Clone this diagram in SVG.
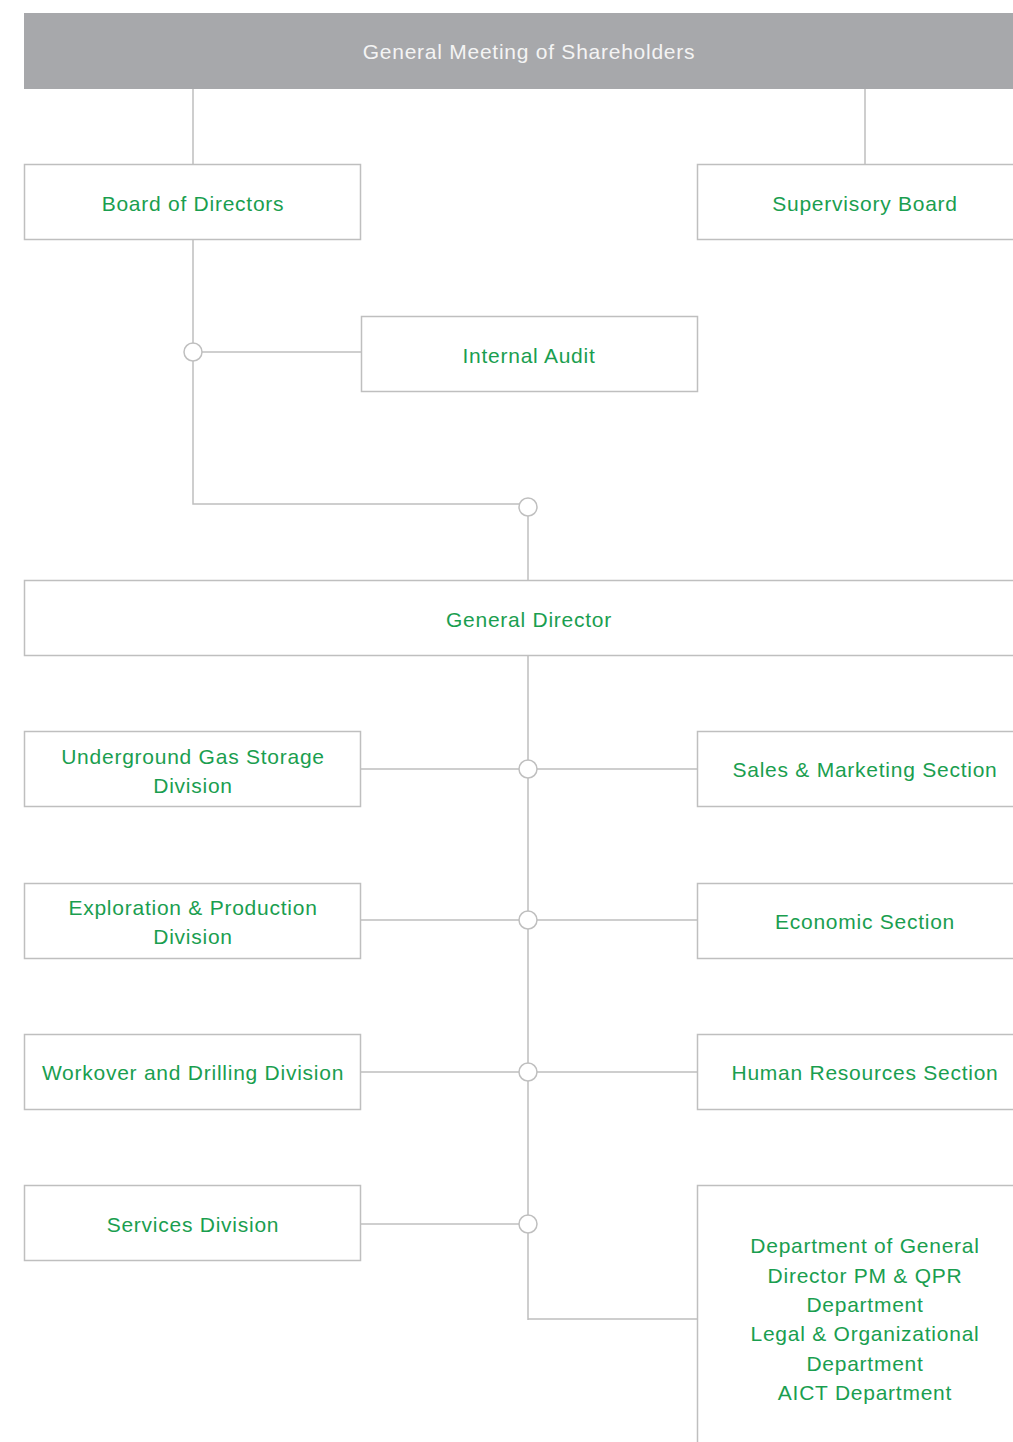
<svg xmlns="http://www.w3.org/2000/svg" width="1013" height="1442" viewBox="0 0 1013 1442">
<style>
.box{fill:#fff;stroke:#bfbfbf;stroke-width:1.5}
.t{font-family:"Liberation Sans",Arial,sans-serif;font-size:21px;letter-spacing:0.75px;fill:#1a9e4f;text-anchor:middle}
.w{font-family:"Liberation Sans",Arial,sans-serif;font-size:21px;letter-spacing:0.75px;fill:#f4f4f4;text-anchor:middle}
.c{fill:none;stroke:#bfbfbf;stroke-width:1.5}
.j{fill:#fff;stroke:#bfbfbf;stroke-width:1.5}
</style>
<rect width="1013" height="1442" fill="#fff"/>
<g id="connectors">
<path class="c" d="M193 89V164M865 89V164"/>
<path class="c" d="M193 240V504H519"/>
<path class="c" d="M202 352H361"/>
<path class="c" d="M528 516V580"/>
<path class="c" d="M528 656V1320M528 1319H697"/>
<path class="c" d="M361 769H519M537 769H697"/>
<path class="c" d="M361 920H519M537 920H697"/>
<path class="c" d="M361 1072H519M537 1072H697"/>
<path class="c" d="M361 1224H519"/>
<circle class="j" cx="193" cy="352" r="9"/>
<circle class="j" cx="528" cy="507" r="9"/>
<circle class="j" cx="528" cy="769" r="9"/>
<circle class="j" cx="528" cy="920" r="9"/>
<circle class="j" cx="528" cy="1072" r="9"/>
<circle class="j" cx="528" cy="1224" r="9"/>
</g>
<g id="gms">
<rect x="24" y="13" width="989" height="76" fill="#a7a8ab"/>
<text class="w" x="529" y="59">General Meeting of Shareholders</text>
</g>
<g id="board">
<rect class="box" x="24.5" y="164.5" width="336" height="75"/>
<text class="t" x="193" y="211">Board of Directors</text>
</g>
<g id="supervisory">
<rect class="box" x="697.5" y="164.5" width="320" height="75"/>
<text class="t" x="865" y="211">Supervisory Board</text>
</g>
<g id="audit">
<rect class="box" x="361.5" y="316.5" width="336" height="75"/>
<text class="t" x="529" y="363">Internal Audit</text>
</g>
<g id="gd">
<rect class="box" x="24.5" y="580.5" width="993" height="75"/>
<text class="t" x="529" y="627">General Director</text>
</g>
<g id="ugs">
<rect class="box" x="24.5" y="731.5" width="336" height="75"/>
<text class="t" x="193" y="764">Underground Gas Storage</text>
<text class="t" x="193" y="793">Division</text>
</g>
<g id="sales">
<rect class="box" x="697.5" y="731.5" width="320" height="75"/>
<text class="t" x="865" y="777">Sales &amp; Marketing Section</text>
</g>
<g id="ep">
<rect class="box" x="24.5" y="883.5" width="336" height="75"/>
<text class="t" x="193" y="915">Exploration &amp; Production</text>
<text class="t" x="193" y="944">Division</text>
</g>
<g id="econ">
<rect class="box" x="697.5" y="883.5" width="320" height="75"/>
<text class="t" x="865" y="929">Economic Section</text>
</g>
<g id="wd">
<rect class="box" x="24.5" y="1034.5" width="336" height="75"/>
<text class="t" x="193" y="1080">Workover and Drilling Division</text>
</g>
<g id="hr">
<rect class="box" x="697.5" y="1034.5" width="320" height="75"/>
<text class="t" x="865" y="1080">Human Resources Section</text>
</g>
<g id="services">
<rect class="box" x="24.5" y="1185.5" width="336" height="75"/>
<text class="t" x="193" y="1232">Services Division</text>
</g>
<g id="depts">
<rect class="box" x="697.5" y="1185.5" width="320" height="270"/>
<text class="t" x="865" y="1253">Department of General</text>
<text class="t" x="865" y="1283">Director PM &amp; QPR</text>
<text class="t" x="865" y="1312">Department</text>
<text class="t" x="865" y="1341">Legal &amp; Organizational</text>
<text class="t" x="865" y="1371">Department</text>
<text class="t" x="865" y="1400">AICT Department</text>
</g>
</svg>
